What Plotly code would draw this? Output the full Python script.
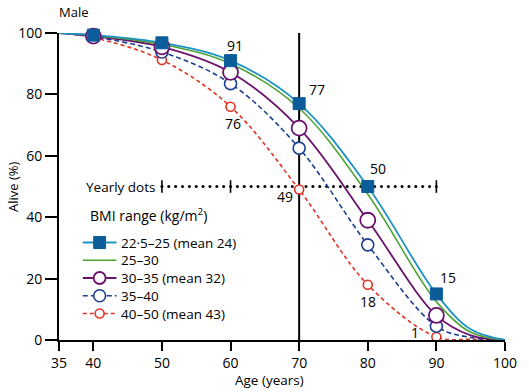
import plotly.graph_objects as go

# ---- data ----
ages_curve = [35, 40, 50, 60, 70, 80, 90, 95, 100]
ages_marker = [40, 50, 60, 70, 80, 90]

bmi_labels = ["22·5–25 (mean 24)", "25–30", "30–35 (mean 32)", "35–40", "40–50 (mean 43)"]

surv_22_25 = [100, 99.3, 96.8, 91, 77, 50, 15, 3.5, 0]
surv_25_30 = [100, 99.2, 96.3, 90, 75.5, 47.5, 12.5, 2.5, 0]
surv_30_35 = [100, 99.0, 95.5, 87.2, 69, 39, 8, 1.5, 0]
surv_35_40 = [100, 98.8, 93.8, 83.5, 62.5, 31, 4.5, 0.8, 0]
surv_40_50 = [100, 98.5, 91.2, 76, 49, 18, 1, 0.2, 0]

yearly_ages = list(range(50, 91))
yearly_level = 50
yearly_ticks = [50, 60, 90]

value_labels = ["91", "77", "50", "15", "76", "49", "18", "1"]
value_label_x = [60.7, 72.6, 81.5, 91.7, 60.4, 67.9, 80.1, 86.9]
value_label_y = [95.8, 81.6, 56, 20.4, 70.4, 46.6, 12.5, 2.4]

x_ticks = [35, 40, 50, 60, 70, 80, 90, 100]
y_ticks = [0, 20, 40, 60, 80, 100]

FONT = "Open Sans"

styles = [
    dict(line=dict(color="#1d93c4", width=1.8), marker=dict(symbol="square", size=12, color="#0b5d99",
                                                            line=dict(color="#0b5d99", width=1))),
    dict(line=dict(color="#4fa335", width=1.6), marker=None),
    dict(line=dict(color="#6a126c", width=1.8), marker=dict(symbol="circle", size=15, color="white",
                                                            line=dict(color="#6a126c", width=1.8))),
    dict(line=dict(color="#1b3f8f", width=1.6, dash="5px,3px"), marker=dict(symbol="circle", size=12, color="white",
                                                                           line=dict(color="#1b3f8f", width=1.6))),
    dict(line=dict(color="#e03322", width=1.6, dash="4px,3px"), marker=dict(symbol="circle", size=9, color="white",
                                                                           line=dict(color="#e03322", width=1.6))),
]
series = [surv_22_25, surv_25_30, surv_30_35, surv_35_40, surv_40_50]

W, H = 529, 392
L, R, T, B = 59, 20, 33, 52
PW, PH = W - L - R, H - T - B


def px_x(p):
    return (p - L) / PW


def px_y(p):
    return (H - B - p) / PH


fig = go.Figure()

# yearly dots
fig.add_trace(go.Scatter(x=yearly_ages, y=[yearly_level] * len(yearly_ages), mode="markers",
                         marker=dict(symbol="circle", size=3, color="black"), showlegend=False,
                         hoverinfo="skip"))
fig.add_trace(go.Scatter(x=yearly_ticks, y=[yearly_level] * len(yearly_ticks), mode="markers",
                         marker=dict(symbol="line-ns", size=9, line=dict(color="black", width=1.6)),
                         showlegend=False, hoverinfo="skip"))

# curves (drawn in reverse so the top group is on top)
for lab, ys, st in reversed(list(zip(bmi_labels, series, styles))):
    fig.add_trace(go.Scatter(x=ages_curve, y=ys, mode="lines", name=lab,
                             line=dict(**st["line"], shape="spline", smoothing=1.0),
                             showlegend=False, hoverinfo="skip", cliponaxis=False))

for lab, ys, st in reversed(list(zip(bmi_labels, series, styles))):
    if st["marker"] is None:
        continue
    my = [ys[ages_curve.index(a)] for a in ages_marker]
    fig.add_trace(go.Scatter(x=ages_marker, y=my, mode="markers", marker=st["marker"], name=lab,
                             showlegend=False, cliponaxis=False))

# vertical line at 70
shapes = [dict(type="line", x0=70, x1=70, y0=0, y1=100, xref="x", yref="y",
               line=dict(color="black", width=2), layer="below")]

anns = []
for t, x, y in zip(value_labels, value_label_x, value_label_y):
    anns.append(dict(x=x, y=y, xref="x", yref="y", text=t, showarrow=False, borderpad=0,
                     font=dict(size=14, color="black", family=FONT)))
anns.append(dict(x=49.2, y=yearly_level, xref="x", yref="y", text="Yearly dots", showarrow=False,
                 xanchor="right", yanchor="middle", borderpad=0,
                 font=dict(size=13.5, color="black", family=FONT)))
anns.append(dict(x=px_x(89), y=px_y(215), xref="paper", yref="paper",
                 text="BMI range (kg/m<sup>2</sup>)", showarrow=False, xanchor="left", yanchor="middle",
                 borderpad=0, font=dict(size=14, color="black", family=FONT)))
anns.append(dict(x=px_x(58), y=px_y(12), xref="paper", yref="paper", text="Male", showarrow=False,
                 xanchor="left", yanchor="middle", borderpad=0,
                 font=dict(size=13, color="black", family=FONT)))
anns.append(dict(x=px_x(12), y=0.5, xref="paper", yref="paper", text="Alive (%)", showarrow=False,
                 xanchor="center", yanchor="middle", textangle=-90, borderpad=0,
                 font=dict(size=13, color="black", family=FONT)))
anns.append(dict(x=px_x(271), y=px_y(379), xref="paper", yref="paper", text="Age (years)", showarrow=False,
                 xanchor="center", yanchor="middle", borderpad=0, height=17,
                 font=dict(size=13.5, color="black", family=FONT)))

# hand-built legend (line + symbol + text), positioned in pixels
leg_x0, leg_x1, leg_xm, leg_tx = 83, 117, 100, 121
leg_rows = [242.5, 260.3, 278, 295.8, 313.5]
for lab, st, yy in zip(bmi_labels, styles, leg_rows):
    ln = dict(color=st["line"]["color"], width=st["line"]["width"])
    if "dash" in st["line"]:
        ln["dash"] = st["line"]["dash"]
    shapes.append(dict(type="line", xref="paper", yref="paper", x0=px_x(leg_x0), x1=px_x(leg_x1),
                       y0=px_y(yy), y1=px_y(yy), line=ln))
    mk = st["marker"]
    if mk is not None:
        r = min(mk["size"], 12) / 2
        shp = dict(xref="paper", yref="paper", x0=px_x(leg_xm - r), x1=px_x(leg_xm + r),
                   y0=px_y(yy + r), y1=px_y(yy - r), fillcolor=mk["color"],
                   line=dict(color=mk["line"]["color"], width=mk["line"]["width"]))
        shp["type"] = "rect" if mk["symbol"] == "square" else "circle"
        shapes.append(shp)
    anns.append(dict(x=px_x(leg_tx), y=px_y(yy), xref="paper", yref="paper", text=lab, showarrow=False,
                     xanchor="left", yanchor="middle", borderpad=0, height=16,
                     font=dict(size=13.5, color="black", family=FONT)))

fig.update_layout(
    width=W, height=H,
    margin=dict(l=L, r=R, t=T, b=B),
    paper_bgcolor="white", plot_bgcolor="white",
    font=dict(family=FONT, size=13, color="black"),
    annotations=anns,
    shapes=shapes,
    showlegend=False,
)
fig.update_xaxes(range=[35, 100], tickvals=x_ticks, ticks="outside", ticklen=9, tickwidth=2,
                 tickcolor="black", showline=True, linecolor="black", linewidth=2, showgrid=False,
                 zeroline=False, tickfont=dict(size=14, family=FONT))
fig.update_yaxes(range=[0, 100], tickvals=y_ticks, ticks="outside", ticklen=12, tickwidth=2,
                 tickcolor="black", showline=True, linecolor="black", linewidth=2, showgrid=False,
                 zeroline=False, tickfont=dict(size=14, family=FONT))

fig.write_html("out.html", config={"displayModeBar": False},
               post_script="document.body.style.margin='0';document.body.style.padding='0';")
